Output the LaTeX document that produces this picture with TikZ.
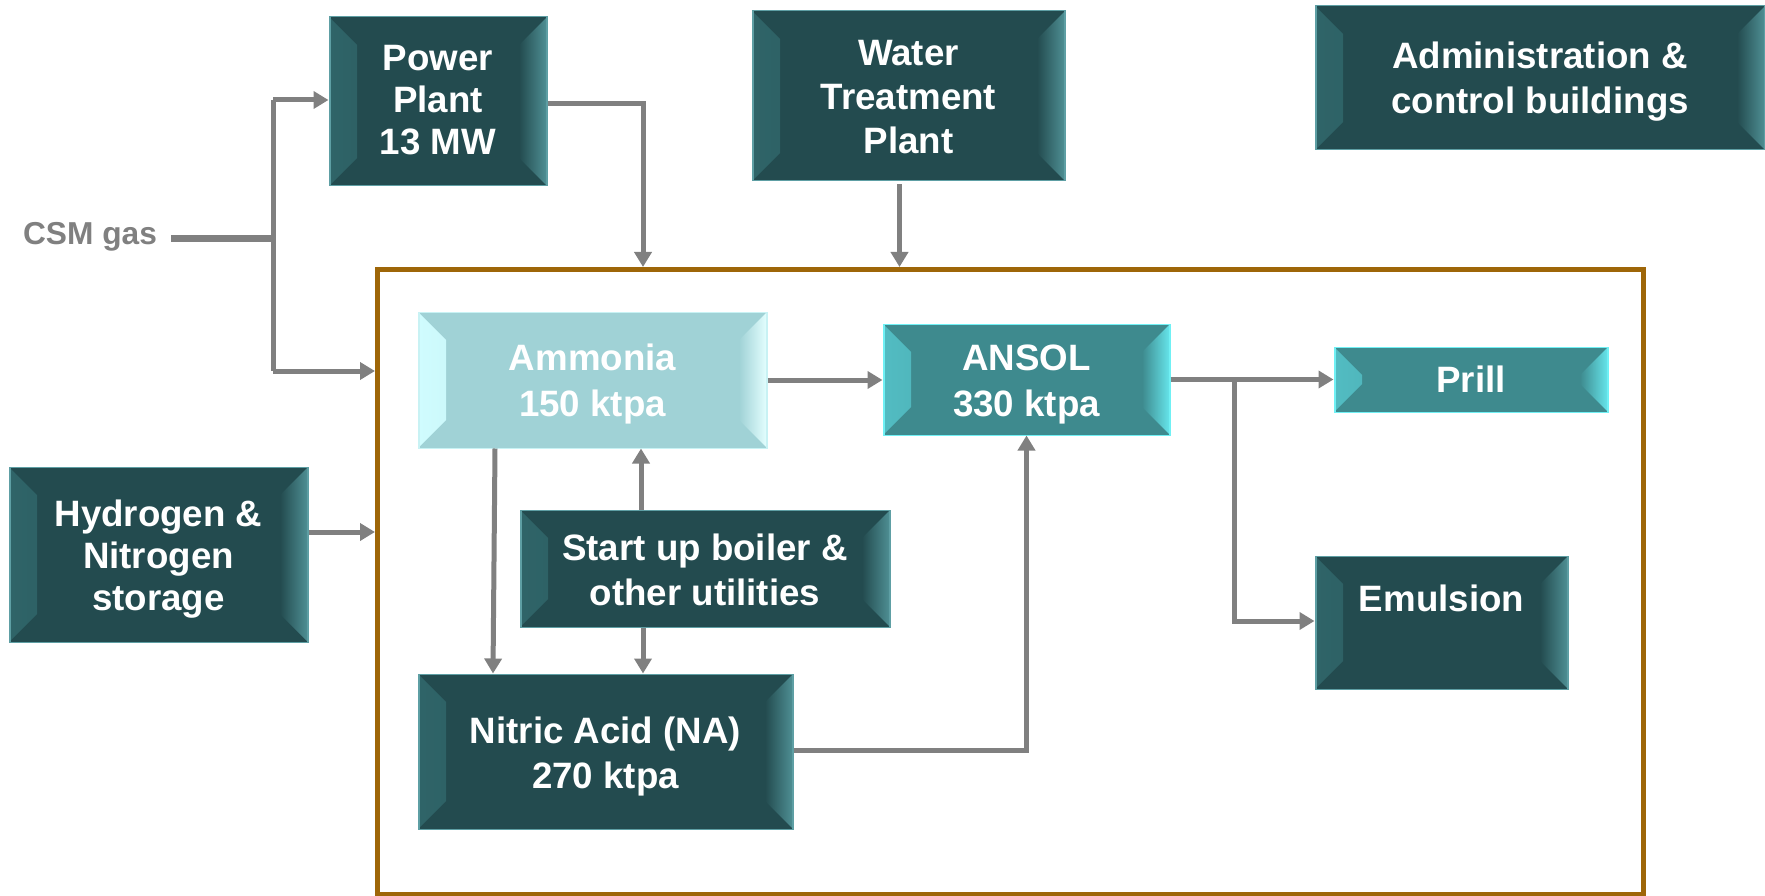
\documentclass[tikz,border=0pt]{standalone}
\usepackage{fontspec}
\setmainfont{Liberation Sans}
\usetikzlibrary{calc,arrows.meta}
\definecolor{dfill}{HTML}{234B4F}
\definecolor{dleft}{HTML}{2F6468}
\definecolor{dright}{HTML}{4F9095}
\definecolor{dline}{HTML}{5E9FA4}
\definecolor{afill}{HTML}{A0D2D6}
\definecolor{aleft}{HTML}{D0FCFE}
\definecolor{aright}{HTML}{E4FFFF}
\definecolor{aline}{HTML}{C8F2F4}
\definecolor{tfill}{HTML}{3E8A8E}
\definecolor{tleft}{HTML}{52BCC2}
\definecolor{tright}{HTML}{66E6EC}
\definecolor{tline}{HTML}{70F0F4}
\definecolor{conncol}{HTML}{808080}
\definecolor{framecol}{RGB}{158,102,8}
\tikzset{
  bevel/.style n args={4}{fill=#1, draw=#4, line width=1pt, inner sep=0pt,
    path picture={
      \shade[left color=#2, right color=#1]
        (path picture bounding box.north west) -- ++(28,28)
        -- ($(path picture bounding box.south west)+(28,-28)$)
        -- (path picture bounding box.south west) -- cycle;
      \shade[left color=#1, right color=#3]
        (path picture bounding box.north east) -- ++(-28,28)
        -- ($(path picture bounding box.south east)+(-28,-28)$)
        -- (path picture bounding box.south east) -- cycle;
      \draw[#4, line width=3pt] (path picture bounding box.north west) -- (path picture bounding box.south west);
      \draw[#4, line width=3pt] (path picture bounding box.north east) -- (path picture bounding box.south east);
    }},
  dbox/.style={bevel={dfill}{dleft}{dright}{dline}},
  abox/.style={bevel={afill}{aleft}{aright}{aline}},
  tbox/.style={bevel={tfill}{tleft}{tright}{tline}},
  txt/.style={text=white, align=center, inner sep=0pt, font=\fontsize{36.7}{45}\selectfont\bfseries},
  conn/.style={draw=conncol, line width=5pt, -{Triangle[length=15pt,width=17pt]}},
  plainline/.style={draw=conncol, line width=5pt},
}
\begin{document}
\begin{tikzpicture}[x=1pt,y=-1pt]
\useasboundingbox (0,0) rectangle (1765,896);
% frame
\node[draw=framecol, line width=5pt, minimum width=1265.5pt, minimum height=624.5pt, inner sep=0pt] (plant) at (1010.25,581.75) {};
% boxes
\node[dbox, minimum width=218pt, minimum height=169pt,
  label={[txt, font=\fontsize{36.7}{42}\selectfont\bfseries, yshift=1.5pt]center:{Power\\Plant\\13 MW}}] (power) at (438,101.5) {};
\node[dbox, minimum width=313pt, minimum height=170pt,
  label={[txt, font=\fontsize{36.7}{44}\selectfont\bfseries, yshift=-1pt]center:{Water\\Treatment\\Plant}}] (water) at (908.5,96) {};
\node[dbox, minimum width=450pt, minimum height=144pt,
  label={[txt, yshift=-4pt]center:{Administration \&\\control buildings}}] (admin) at (1540,78) {};
\node[abox, minimum width=349pt, minimum height=136pt,
  label={[txt, font=\fontsize{36.7}{45.5}\selectfont\bfseries, yshift=-4pt]center:{Ammonia\\150 ktpa}}] (amm) at (592.5,380) {};
\node[tbox, minimum width=287pt, minimum height=111pt,
  label={[txt, font=\fontsize{36.7}{46}\selectfont\bfseries, yshift=-4.5pt]center:{ANSOL\\330 ktpa}}] (ansol) at (1026.5,379.5) {};
\node[tbox, minimum width=274pt, minimum height=65pt,
  label={[txt]center:Prill}] (prill) at (1471,379.5) {};
\node[dbox, minimum width=299pt, minimum height=175pt,
  label={[txt, font=\fontsize{36.7}{42}\selectfont\bfseries, yshift=-4.7pt]center:{Hydrogen \&\\Nitrogen\\storage}}] (hyd) at (158.5,554.5) {};
\node[dbox, minimum width=370pt, minimum height=117pt,
  label={[txt, yshift=-1pt]center:{Start up boiler \&\\other utilities}}] (start) at (705,568.5) {};
\node[dbox, minimum width=375pt, minimum height=155pt,
  label={[txt, yshift=-5pt]center:{Nitric Acid (NA)\\270 ktpa}}] (nitric) at (605.5,751.5) {};
\node[dbox, minimum width=253pt, minimum height=133pt,
  label={[txt, yshift=24.5pt]center:Emulsion}] (emul) at (1441.5,622.5) {};
% CSM gas
\node[text=conncol, font=\fontsize{31.7}{38}\selectfont\bfseries, inner sep=0pt] (csm) at (90,237) {CSM gas};
\coordinate (csmend) at (171,239);
\coordinate (j1) at (273,239);
\coordinate (jt) at (273,100);
\coordinate (jb) at (273,371);
\draw[draw=conncol, line width=7pt] (csmend) -- (j1);
\draw[plainline] (jt) -- (jb);
\draw[conn] (jt) -- (jt -| power.west);
\draw[conn] (jb) -- (jb -| plant.west);
% power plant to frame
\coordinate (ppx) at (643,0);
\draw[conn] ([yshift=-2.5pt]power.east) -| (ppx |- plant.north);
% water to frame
\draw[conn] ([xshift=-9pt,yshift=-3pt]water.south) -- ([xshift=-9pt]water.south |- plant.north);
% hydrogen to frame
\draw[conn] ([yshift=22.5pt]hyd.east) -- ([yshift=22.5pt]hyd.east -| plant.west);
% ammonia to ansol
\draw[conn] (amm.east) -- (amm.east -| ansol.west);
% ammonia to nitric
\draw[conn] ([xshift=-97.5pt]amm.south) -- ([xshift=-112.5pt]nitric.north);
% startup to ammonia and nitric
\draw[conn] ([xshift=-64pt]start.north) -- ([xshift=-64pt]start.north |- amm.south);
\draw[conn] ([xshift=-62pt]start.south) -- ([xshift=-62pt]start.south |- nitric.north);
% nitric to ansol
\draw[conn] ([yshift=1.5pt]nitric.east) -| (ansol.south);
% ansol to prill and emulsion
\draw[conn] (ansol.east) -- (ansol.east -| prill.west);
\coordinate (br) at ([xshift=64pt]ansol.east);
\draw[conn] (br) |- ([yshift=1.5pt]emul.west);
\end{tikzpicture}
\end{document}
